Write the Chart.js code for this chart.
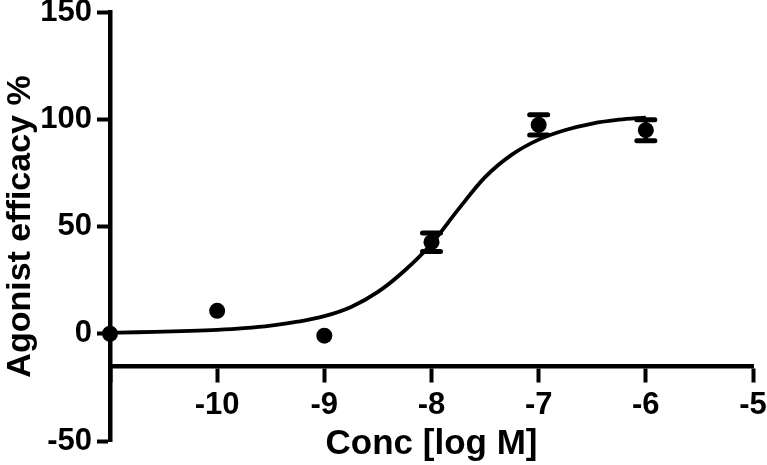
<!DOCTYPE html>
<html>
<head>
<meta charset="utf-8">
<script src="https://cdn.jsdelivr.net/npm/chart.js@4/dist/chart.umd.min.js"></script>
<style>
  html, body { margin: 0; padding: 0; background: #fff; }
  #wrap { width: 767px; height: 465px; }
</style>
</head>
<body>
<div id="wrap"><canvas id="c" width="767" height="465"></canvas></div>
<script>
// ---- data ----
const concLog   = [-11, -10, -9, -8, -7, -6];
const efficacy  = [0, 10.7, -0.9, 42.7, 97.4, 94.9];
const errSEM    = [0, 0, 0, 4.3, 4.7, 4.9];

// fitted curve
const curveX = [-11, -10.75, -10.5, -10.25, -10, -9.75, -9.5, -9.25, -9, -8.75, -8.5, -8.25, -8, -7.75, -7.5, -7.25, -7, -6.75, -6.5, -6.25, -6];
const curveY = [0.5, 0.7, 1.0, 1.3, 1.8, 2.6, 3.8, 5.6, 8.2, 12.5, 19.5, 29.5, 42, 58, 73, 83.5, 90.5, 95, 98, 99.8, 100.8];

const xTicks = [-11, -10, -9, -8, -7, -6, -5];
const yTicks = [-50, 0, 50, 100, 150];

const FONT = "'Liberation Sans', Arial, Helvetica, sans-serif";

const errorBars = {
  id: 'errorBars',
  afterDatasetsDraw(chart) {
    const xs = chart.scales.x, ys = chart.scales.y;
    const ctx = chart.ctx;
    ctx.save();
    ctx.strokeStyle = '#000';
    ctx.lineCap = 'round';
    concLog.forEach((x, i) => {
      const e = errSEM[i];
      if (!e) return;
      const px = xs.getPixelForValue(x);
      const pTop = ys.getPixelForValue(efficacy[i] + e);
      const pBot = ys.getPixelForValue(efficacy[i] - e);
      ctx.lineWidth = 4;
      ctx.beginPath();
      ctx.moveTo(px, pTop); ctx.lineTo(px, pBot);
      ctx.stroke();
      ctx.lineWidth = 5;
      ctx.beginPath();
      ctx.moveTo(px - 9, pTop); ctx.lineTo(px + 9, pTop);
      ctx.moveTo(px - 9, pBot); ctx.lineTo(px + 9, pBot);
      ctx.stroke();
    });
    ctx.restore();
  }
};

new Chart(document.getElementById('c'), {
  type: 'scatter',
  data: {
    datasets: [
      {
        type: 'line',
        data: curveX.map((x, i) => ({x, y: curveY[i]})),
        borderColor: '#000',
        borderWidth: 3.8,
        pointRadius: 0,
        fill: false,
        cubicInterpolationMode: 'monotone',
        clip: false
      },
      {
        type: 'scatter',
        data: concLog.map((x, i) => ({x, y: efficacy[i]})),
        backgroundColor: '#000',
        borderColor: '#000',
        borderWidth: 0,
        pointRadius: 8,
        clip: false
      }
    ]
  },
  plugins: [errorBars],
  options: {
    responsive: false,
    animation: false,
    devicePixelRatio: 1,
    layout: { padding: { left: 0, top: 12, right: 14, bottom: 24 } },
    plugins: { legend: { display: false }, tooltip: { enabled: false } },
    scales: {
      x: {
        type: 'linear',
        position: { y: -15 },
        min: -11, max: -5,
        afterBuildTicks: s => { s.ticks = xTicks.map(v => ({ value: v })); },
        afterFit: s => { s.paddingLeft = 0; s.paddingRight = 0; },
        ticks: {
          color: '#000',
          font: { family: FONT, size: 31, weight: 'bold', lineHeight: 1.2 },
          padding: 7,
          maxRotation: 0,
          autoSkip: false,
          callback: v => (v === -11 ? '' : String(v))
        },
        grid: { drawOnChartArea: false, drawTicks: true, tickLength: 14, tickWidth: 4, tickColor: '#000', color: '#000' },
        border: { display: true, color: '#000', width: 4.5 },
        title: {
          display: true, text: 'Conc [log M]', color: '#000',
          font: { family: FONT, size: 35, weight: 'bold', lineHeight: 1 },
          padding: { top: -4, bottom: 0 }
        }
      },
      y: {
        type: 'linear',
        position: 'left',
        min: -50, max: 150,
        afterBuildTicks: s => { s.ticks = yTicks.map(v => ({ value: v })); },
        afterFit: s => { s.width = 110; s.paddingTop = 0; s.paddingBottom = 0; },
        ticks: {
          color: '#000',
          font: { family: FONT, size: 31, weight: 'bold', lineHeight: 1 },
          padding: 5,
          callback: v => String(v)
        },
        grid: { drawOnChartArea: false, drawTicks: true, tickLength: 13, tickWidth: 4, tickColor: '#000', color: '#000' },
        border: { display: true, color: '#000', width: 4.5 },
        title: {
          display: true, text: 'Agonist efficacy %', color: '#000',
          font: { family: FONT, size: 34, weight: 'bold', lineHeight: 1 },
          padding: { top: 4, bottom: 0 }
        }
      }
    }
  }
});
</script>
</body>
</html>
